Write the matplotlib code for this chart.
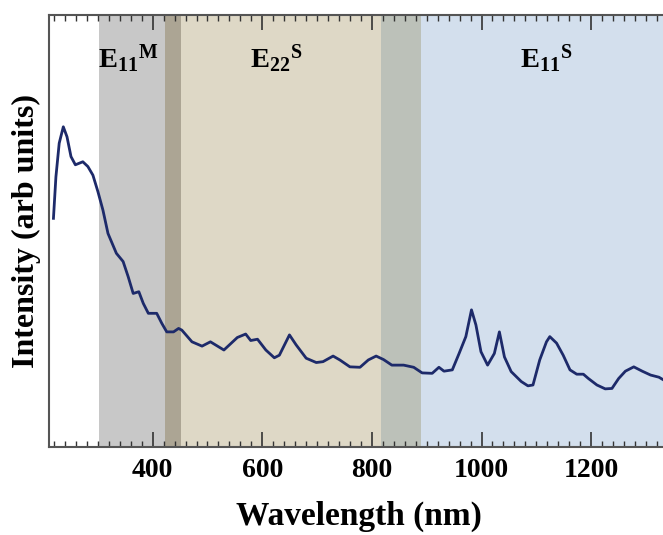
import numpy as np
import matplotlib.pyplot as plt
from matplotlib.ticker import MultipleLocator

# spectrum (wavelength in nm, intensity in arb. units)
wavelength = [219, 223.5, 229.5, 237, 243.7, 251, 259, 272.6, 281.8, 291,
              300.1, 309.3, 318.5, 333.8, 346.1, 355.3, 364.5, 374.8, 382.9, 392.1,
              407.4, 416.6, 425.7, 438.1, 447.3, 453.3, 471.7, 490.1, 505.4, 530,
              554.5, 569.7, 578.9, 591.3, 606.5, 622, 631.2, 649.6, 661.7, 680.1,
              698.5, 710.8, 729.2, 741.5, 759.9, 778.3, 793.5, 807.7, 821.1, 836.4,
              857.9, 876.3, 891.6, 910, 922.3, 931.5, 946.7, 959.1, 971.4, 981.7,
              989.8, 999, 1011.1, 1023.4, 1032.6, 1041.8, 1054.1, 1072.5, 1084.7, 1093.9,
              1106.2, 1118.5, 1124.6, 1136.9, 1149, 1161.4, 1173.7, 1185.8, 1195, 1210.5,
              1225.7, 1238, 1250.2, 1262.5, 1277.8, 1293.2, 1308.5, 1323.7, 1341]
intensity = [52.9, 62.5, 70.3, 74.1, 71.8, 67.2, 65.3, 66.0, 64.9, 62.9,
             59.1, 54.8, 49.4, 44.8, 42.9, 39.4, 35.5, 35.9, 33.2, 30.9,
             30.9, 28.6, 26.6, 26.6, 27.4, 27.0, 24.3, 23.3, 24.3, 22.4,
             25.3, 26.1, 24.6, 24.9, 22.4, 20.6, 21.2, 25.9, 23.6, 20.5,
             19.5, 19.7, 21.0, 20.1, 18.5, 18.4, 20.1, 21.0, 20.2, 18.9,
             18.9, 18.4, 17.1, 17.0, 18.4, 17.5, 17.8, 21.6, 25.5, 31.7,
             28.2, 22.0, 18.9, 21.6, 26.6, 20.8, 17.4, 15.1, 14.1, 14.3,
             20.1, 24.3, 25.5, 24.0, 21.2, 17.8, 16.8, 16.8, 15.8, 14.3,
             13.4, 13.5, 15.8, 17.5, 18.5, 17.5, 16.6, 16.1, 14.8]

# shaded transition bands
band_labels = [r'$\mathbf{E_{11}{}^{M}}$', r'$\mathbf{E_{22}{}^{S}}$', r'$\mathbf{E_{11}{}^{S}}$']
band_start = [303, 423, 817]
band_end = [452, 889, 1345]
band_colors = ['#c8c8c8', '#ded8c6', '#d3dfed']
overlap_colors = ['#aca594', '#bcc1b9']
label_x = [356, 626, 1118]

plt.rcParams['font.family'] = 'Liberation Serif'
plt.rcParams['font.weight'] = 'bold'
plt.rcParams['mathtext.fontset'] = 'custom'
plt.rcParams['mathtext.bf'] = 'Liberation Serif:bold'
plt.rcParams['mathtext.rm'] = 'Liberation Serif:bold'

fig = plt.figure(figsize=(6.63, 5.35), dpi=100)
ax = fig.add_axes([0.074, 0.165, 0.935, 0.807])

for i in range(len(band_start)):
    ax.axvspan(band_start[i], band_end[i], color=band_colors[i], lw=0, zorder=0)
# overlapping parts of neighbouring bands
for i in range(len(band_start) - 1):
    ax.axvspan(band_start[i + 1], band_end[i], color=overlap_colors[i], lw=0, zorder=0.5)

for i in range(len(band_labels)):
    ax.text(label_x[i], 89.8, band_labels[i], fontsize=20.5, ha='center', va='center')

ax.plot(wavelength, intensity, color='#1d2a6a', lw=2.0, zorder=3)

ax.set_xlim(211, 1342)
ax.set_ylim(0, 100)
ax.set_yticks([])

ax.xaxis.set_major_locator(MultipleLocator(200))
ax.xaxis.set_minor_locator(MultipleLocator(20))
ax.tick_params(axis='x', which='major', direction='in', length=11, width=1.2,
               top=True, labelsize=20, pad=8, color='#333333')
ax.tick_params(axis='x', which='minor', direction='in', length=4, width=1.0,
               top=True, color='#333333')
for lab in ax.get_xticklabels():
    lab.set_fontweight('bold')

for side in ['left', 'top', 'bottom']:
    ax.spines[side].set_color('#555555')
    ax.spines[side].set_linewidth(1.5)
ax.spines['right'].set_visible(False)

ax.set_xlabel('Wavelength (nm)', fontsize=24, fontweight='bold', labelpad=13)
ax.set_ylabel('Intensity (arb units)', fontsize=23, fontweight='bold', labelpad=6)

plt.savefig('out.png', dpi=100)
